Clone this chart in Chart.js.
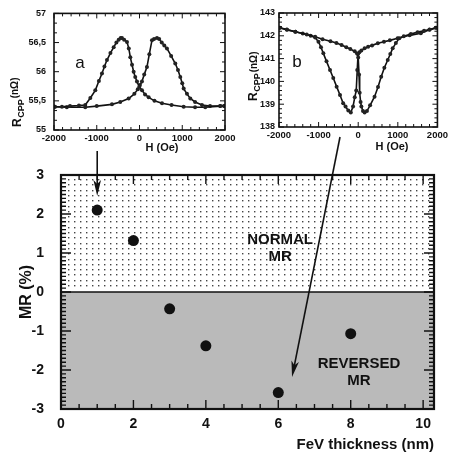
<!DOCTYPE html>
<html>
<head>
<meta charset="UTF-8">
<title>MR vs FeV thickness</title>
<script src="https://cdn.jsdelivr.net/npm/chart.js"></script>
<style>
  html, body { margin: 0; padding: 0; background: #fff; }
  #wrap { position: relative; width: 451px; height: 454px; overflow: hidden; }
  #wrap canvas { position: absolute; top: 0; }
  #mainChart { left: 0; }
  #insetA { left: 0; }
  #insetB { left: 240px; }
</style>
</head>
<body>
<div id="wrap">
  <canvas id="mainChart" width="451" height="454"></canvas>
  <canvas id="insetA" width="240" height="160"></canvas>
  <canvas id="insetB" width="211" height="160"></canvas>
</div>
<script>
// main panel: MR against FeV layer thickness
const thickness = [1, 2, 3, 4, 6, 8];
const mrPercent = [2.1, 1.32, -0.43, -1.38, -2.58, -1.07];
const mrTicks = [-3, -2, -1, 0, 1, 2, 3];
const thicknessTicks = [0, 2, 4, 6, 8, 10];

// inset a: R_CPP (nΩ) against H (Oe), both sweep branches
const fieldA1 = [-1980, -1814, -1626, -1416, -1269, -1150, -1034, -950, -878, -820, -761, -680, -604, -540, -487, -440, -410, -360, -293, -250, -215, -175, -137, -100, -59, -5, 58, 130, 214, 350, 526, 750, 1033, 1300, 1538, 1889, 1980];
const resA1 = [55.40, 55.40, 55.41, 55.42, 55.43, 55.55, 55.68, 55.84, 55.97, 56.09, 56.20, 56.32, 56.42, 56.50, 56.55, 56.58, 56.58, 56.55, 56.51, 56.40, 56.25, 56.12, 56.00, 55.91, 55.83, 55.74, 55.68, 55.61, 55.56, 55.50, 55.46, 55.43, 55.40, 55.39, 55.39, 55.41, 55.41];
const fieldA2 = [-1980, -1700, -1269, -1000, -644, -450, -254, -120, -40, 10, 57, 110, 174, 230, 292, 340, 409, 460, 520, 580, 642, 740, 837, 900, 954, 1000, 1033, 1110, 1188, 1300, 1461, 1650, 1889, 1980];
const resA2 = [55.40, 55.39, 55.39, 55.41, 55.44, 55.48, 55.54, 55.62, 55.70, 55.77, 55.83, 55.95, 56.08, 56.30, 56.54, 56.56, 56.58, 56.56, 56.50, 56.45, 56.40, 56.27, 56.14, 56.03, 55.91, 55.80, 55.71, 55.62, 55.54, 55.48, 55.43, 55.41, 55.41, 55.41];
const resATicks = [55, 55.5, 56, 56.5, 57];
const resATickLabels = ['55', '55,5', '56', '56,5', '57'];

// inset b: R_CPP (nΩ) against H (Oe)
const fieldB1 = [-1980, -1800, -1587, -1300, -1087, -900, -700, -550, -420, -300, -200, -88, -30, 0, 20, 37, 60, 80, 120, 162, 220, 300, 412, 500, 580, 660, 745, 810, 870, 950, 1037, 1150, 1330, 1500, 1662, 1800, 1955];
const resB1 = [142.35, 142.28, 142.18, 142.06, 141.96, 141.85, 141.76, 141.68, 141.60, 141.50, 141.42, 141.32, 141.22, 141.05, 140.30, 139.50, 139.10, 138.90, 138.70, 138.64, 138.70, 138.95, 139.33, 139.75, 140.20, 140.60, 140.94, 141.20, 141.45, 141.68, 141.89, 141.98, 142.08, 142.16, 142.22, 142.28, 142.35];
const fieldB2 = [1980, 1800, 1580, 1300, 995, 800, 650, 495, 350, 250, 162, 80, 30, -4, -25, -50, -88, -130, -187, -250, -320, -380, -460, -545, -630, -712, -800, -880, -940, -1004, -1087, -1200, -1400, -1587, -1800, -1980];
const resB2 = [142.35, 142.26, 142.11, 142.02, 141.89, 141.80, 141.74, 141.67, 141.58, 141.52, 141.45, 141.36, 141.28, 141.20, 140.50, 139.60, 139.30, 138.90, 138.64, 138.72, 138.90, 139.04, 139.40, 139.77, 140.15, 140.50, 140.88, 141.23, 141.50, 141.74, 141.92, 142.00, 142.10, 142.18, 142.26, 142.35];
const resBTicks = [138, 139, 140, 141, 142, 143];

const fieldTicks = [-2000, -1000, 0, 1000, 2000];

const FONT = '"Liberation Sans", Arial, Helvetica, sans-serif';
Chart.defaults.font.family = FONT;
Chart.defaults.color = '#111';

function pts(xs, ys) {
  return xs.map((x, i) => ({ x: x, y: ys[i] }));
}

// short tick marks pointing inwards, on both sides of the plot box
function tickMarks(chart, id, step, major, minorLen, majorLen) {
  const s = chart.scales[id], a = chart.chartArea, ctx = chart.ctx;
  const n0 = Math.ceil(s.min / step - 1e-6), n1 = Math.floor(s.max / step + 1e-6);
  ctx.beginPath();
  for (let n = n0; n <= n1; n++) {
    const v = n * step;
    const isMajor = Math.abs(v / major - Math.round(v / major)) < 1e-6;
    const len = isMajor ? majorLen : minorLen;
    const p = s.getPixelForValue(v);
    if (s.isHorizontal()) {
      ctx.moveTo(p, a.bottom); ctx.lineTo(p, a.bottom - len);
      ctx.moveTo(p, a.top); ctx.lineTo(p, a.top + len);
    } else {
      ctx.moveTo(a.left, p); ctx.lineTo(a.left + len, p);
      ctx.moveTo(a.right, p); ctx.lineTo(a.right - len, p);
    }
  }
  ctx.stroke();
}

function arrow(ctx, x0, y0, x1, y1) {
  const ang = Math.atan2(y1 - y0, x1 - x0), c = Math.cos(ang), s = Math.sin(ang);
  const L = 16, W = 3.8;
  ctx.beginPath();
  ctx.moveTo(x0, y0);
  ctx.lineTo(x1 - L * 0.7 * c, y1 - L * 0.7 * s);
  ctx.stroke();
  ctx.beginPath();
  ctx.moveTo(x1, y1);
  ctx.lineTo(x1 - L * c + W * s, y1 - L * s - W * c);
  ctx.lineTo(x1 - L * 0.75 * c, y1 - L * 0.75 * s);
  ctx.lineTo(x1 - L * c - W * s, y1 - L * s + W * c);
  ctx.closePath();
  ctx.fill();
}

const mainDecor = {
  id: 'mainDecor',
  beforeDatasetsDraw(chart) {
    const ctx = chart.ctx, a = chart.chartArea, y = chart.scales.y;
    const zero = y.getPixelForValue(0);
    ctx.save();
    // reversed MR region
    ctx.fillStyle = '#bababa';
    ctx.fillRect(a.left, zero, a.right - a.left, a.bottom - zero);
    // dotted normal MR region
    ctx.fillStyle = '#444';
    for (let py = a.top + 4; py < zero - 2; py += 5.3) {
      for (let px = a.left + 7; px < a.right - 2; px += 6) {
        ctx.fillRect(Math.round(px), Math.round(py), 1.4, 1.4);
      }
    }
    ctx.restore();
  },
  afterDraw(chart) {
    const ctx = chart.ctx, a = chart.chartArea, x = chart.scales.x, y = chart.scales.y;
    ctx.save();
    ctx.strokeStyle = '#111';
    ctx.fillStyle = '#111';
    ctx.lineWidth = 1.6;
    const zero = y.getPixelForValue(0);
    ctx.beginPath(); ctx.moveTo(a.left, zero); ctx.lineTo(a.right, zero); ctx.stroke();
    ctx.lineWidth = 1.4;
    tickMarks(chart, 'x', 0.5, 2, 5, 9);
    tickMarks(chart, 'y', 0.1, 1, 5, 10);
    ctx.lineWidth = 2.2;
    ctx.strokeRect(a.left, a.top, a.right - a.left, a.bottom - a.top);

    ctx.font = 'bold 15px ' + FONT;
    ctx.textAlign = 'center';
    ctx.textBaseline = 'middle';
    ctx.fillText('NORMAL', x.getPixelForValue(6.05), y.getPixelForValue(1.33));
    ctx.fillText('MR', x.getPixelForValue(6.05), y.getPixelForValue(0.9));
    ctx.fillText('REVERSED', x.getPixelForValue(8.23), y.getPixelForValue(-1.85));
    ctx.fillText('MR', x.getPixelForValue(8.23), y.getPixelForValue(-2.27));

    // arrows from the insets to their data points
    ctx.lineWidth = 1.6;
    arrow(ctx, x.getPixelForValue(1), 151, x.getPixelForValue(1), y.getPixelForValue(2.46));
    arrow(ctx, 340, 137, x.getPixelForValue(6.38), y.getPixelForValue(-2.18));
    ctx.restore();
  }
};

new Chart(document.getElementById('mainChart'), {
  type: 'scatter',
  data: {
    datasets: [{
      data: pts(thickness, mrPercent),
      pointRadius: 5.5,
      pointBackgroundColor: '#111',
      pointBorderColor: '#111',
      pointBorderWidth: 0
    }]
  },
  options: {
    responsive: false,
    animation: false,
    layout: { padding: { top: 175, right: 17, left: 0, bottom: 0 } },
    plugins: { legend: { display: false }, tooltip: { enabled: false } },
    scales: {
      x: {
        type: 'linear', min: 0, max: 10.3,
        afterBuildTicks: s => { s.ticks = thicknessTicks.map(v => ({ value: v })); },
        afterFit: s => { s.height = 45; },
        grid: { display: false, drawTicks: false },
        border: { display: false },
        ticks: { padding: 7, autoSkip: false, maxRotation: 0, font: { size: 14, weight: 'bold' } },
        title: { display: true, text: 'FeV thickness (nm)', align: 'end', padding: { top: 0, bottom: 0 }, font: { size: 15, weight: 'bold' } }
      },
      y: {
        type: 'linear', min: -3, max: 3,
        afterBuildTicks: s => { s.ticks = mrTicks.map(v => ({ value: v })); },
        afterFit: s => { s.width = 61; },
        grid: { display: false, drawTicks: false },
        border: { display: false },
        ticks: { padding: 17, autoSkip: false, font: { size: 14, weight: 'bold' } },
        title: { display: true, text: 'MR (%)', padding: { top: 17, bottom: 0 }, font: { size: 16, weight: 'bold' } }
      }
    }
  },
  plugins: [mainDecor]
});

// y title R_CPP (nΩ), drawn bottom to top with a subscript
function rcppTitle(ctx, cx, yBottom, big, small, raiseUnit) {
  ctx.save();
  ctx.translate(cx, yBottom);
  ctx.rotate(-Math.PI / 2);
  ctx.textAlign = 'left';
  ctx.textBaseline = 'alphabetic';
  ctx.fillStyle = '#111';
  ctx.font = 'bold ' + big + 'px ' + FONT;
  ctx.fillText('R', 0, 4);
  let w = ctx.measureText('R').width + 0.5;
  ctx.font = 'bold ' + small + 'px ' + FONT;
  ctx.fillText('CPP', w, 7);
  w += ctx.measureText('CPP').width + 1;
  ctx.font = 'bold ' + (small + 1) + 'px ' + FONT;
  ctx.fillText('(nΩ)', w, raiseUnit ? 1 : 4);
  ctx.restore();
}

function insetDecor(letter, letterPos, titleX, titleBottom, raiseUnit, hPos, yStep, yMajor) {
  return {
    id: 'insetDecor',
    afterDraw(chart) {
      const ctx = chart.ctx, a = chart.chartArea;
      ctx.save();
      ctx.strokeStyle = '#111';
      ctx.lineWidth = 1;
      tickMarks(chart, 'x', 200, 1000, 3, 5);
      tickMarks(chart, 'y', yStep, yMajor, 3, 5);
      ctx.lineWidth = 1.6;
      ctx.strokeRect(a.left, a.top, a.right - a.left, a.bottom - a.top);
      ctx.fillStyle = '#111';
      ctx.font = '17px ' + FONT;
      ctx.textAlign = 'center';
      ctx.textBaseline = 'middle';
      ctx.fillText(letter, letterPos[0], letterPos[1]);
      ctx.font = 'bold 11px ' + FONT;
      ctx.fillText('H (Oe)', hPos[0], hPos[1]);
      rcppTitle(ctx, titleX, titleBottom, 12, 9, raiseUnit);
      ctx.restore();
    }
  };
}

function insetChart(el, d1, d2, yTicks, yLabels, yMin, yMax, yWidth, padRight, xHeight, yPad, decor) {
  const line = {
    showLine: true,
    borderColor: '#111',
    borderWidth: 1.6,
    pointRadius: 2,
    pointBackgroundColor: '#222',
    pointBorderColor: '#222',
    pointBorderWidth: 0,
    tension: 0
  };
  return new Chart(document.getElementById(el), {
    type: 'scatter',
    data: { datasets: [Object.assign({ data: d1 }, line), Object.assign({ data: d2 }, line)] },
    options: {
      responsive: false,
      animation: false,
      layout: { padding: { top: 13, right: padRight, left: 0, bottom: 0 } },
      plugins: { legend: { display: false }, tooltip: { enabled: false } },
      scales: {
        x: {
          type: 'linear', min: -2000, max: 2000,
          afterBuildTicks: s => { s.ticks = fieldTicks.map(v => ({ value: v })); },
          afterFit: s => { s.height = xHeight; },
          grid: { display: false, drawTicks: false },
          border: { display: false },
          ticks: {
            padding: 3, autoSkip: false, maxRotation: 0, font: { size: 9.5, weight: 'bold' },
            callback: (v, i) => String(fieldTicks[i])
          }
        },
        y: {
          type: 'linear', min: yMin, max: yMax,
          afterBuildTicks: s => { s.ticks = yTicks.map(v => ({ value: v })); },
          afterFit: s => { s.width = yWidth; },
          grid: { display: false, drawTicks: false },
          border: { display: false },
          ticks: {
            padding: yPad, autoSkip: false, font: { size: 9, weight: 'bold' },
            callback: (v, i) => yLabels[i]
          }
        }
      }
    },
    plugins: [decor]
  });
}

insetChart('insetA', pts(fieldA1, resA1), pts(fieldA2, resA2), resATicks, resATickLabels,
  55, 57, 54, 15, 30, 8,
  insetDecor('a', [80, 63], 17, 127, true, [162, 148], 0.5 / 3, 0.5));

insetChart('insetB', pts(fieldB1, resB1), pts(fieldB2, resB2), resBTicks, resBTicks.map(String),
  138, 143, 39, 13, 33, 4,
  insetDecor('b', [57, 62], 13, 101, false, [152, 147], 0.2, 1));
</script>
</body>
</html>
